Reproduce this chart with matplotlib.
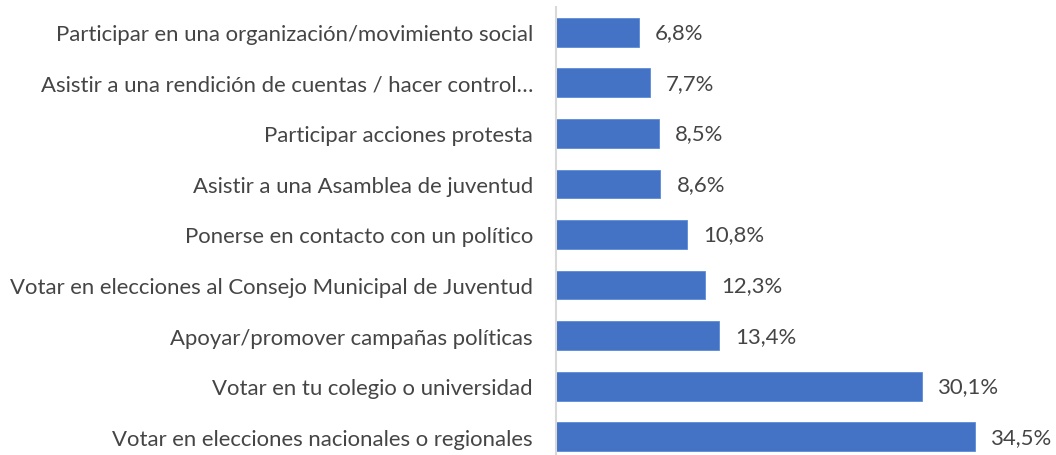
import matplotlib
matplotlib.use("Agg")
import matplotlib.pyplot as plt

categories = [
    "Participar en una organización/movimiento social",
    "Asistir a una rendición de cuentas / hacer control…",
    "Participar acciones protesta",
    "Asistir a una Asamblea de juventud",
    "Ponerse en contacto con un político",
    "Votar en elecciones al Consejo Municipal de Juventud",
    "Apoyar/promover campañas políticas",
    "Votar en tu colegio o universidad",
    "Votar en elecciones nacionales o regionales",
]
values = [6.8, 7.7, 8.5, 8.6, 10.8, 12.3, 13.4, 30.1, 34.5]
value_labels = ["6,8%", "7,7%", "8,5%", "8,6%", "10,8%", "12,3%", "13,4%", "30,1%", "34,5%"]

W, H, DPI = 1056, 456, 100
plt.rcParams['font.family'] = ['Lato', 'DejaVu Sans']
text_color = "#454545"
bar_color = "#4472C4"

fig = plt.figure(figsize=(W / DPI, H / DPI), dpi=DPI)
left_px, right_px = 556, 1040
top_px, bottom_px = 8, 463
ax = fig.add_axes([left_px / W, 1 - bottom_px / H, (right_px - left_px) / W, (bottom_px - top_px) / H])

px_per_unit = 12.15
ax.set_xlim(0, (right_px - left_px) / px_per_unit)
ypos = list(range(len(categories)))
ax.barh(ypos, values, height=0.57, color=bar_color, edgecolor="#5B8BD9", linewidth=0.6, zorder=2)
ax.set_ylim(len(categories) - 0.5, -0.5)

# fit font size to target label width
renderer = fig.canvas.get_renderer()
probe = fig.text(0, 0, categories[5], fontsize=12)
w = probe.get_window_extent(renderer).width
probe.remove()
fs = 12 * 522 / w

ax.set_yticks(ypos)
ax.set_yticklabels(categories, fontsize=fs, color=text_color)
ax.tick_params(axis='y', length=0, pad=23 * 72 / DPI)
ax.set_xticks([])

for s in ['top', 'right', 'bottom']:
    ax.spines[s].set_visible(False)
ax.spines['left'].set_color("#D9D9D9")
ax.spines['left'].set_linewidth(1.5)

for y, v, lab in zip(ypos, values, value_labels):
    ax.annotate(lab, xy=(v, y), xytext=(16 * 72 / DPI, 0), textcoords='offset points',
                va='center', ha='left', fontsize=fs, color=text_color)

fig.savefig("out.png", dpi=DPI)
